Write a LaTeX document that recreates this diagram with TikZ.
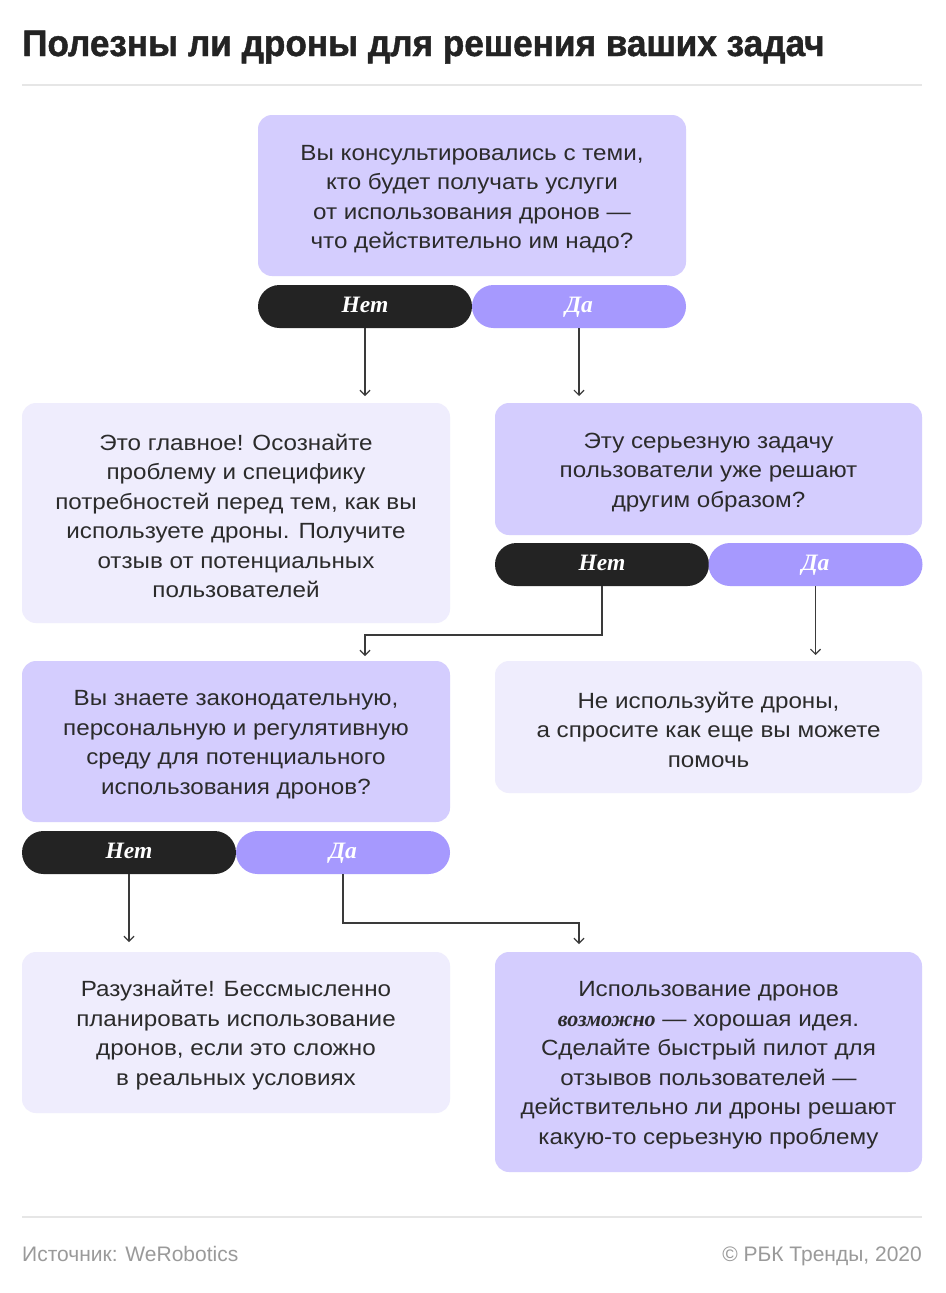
\documentclass[tikz,border=0pt]{standalone}
\usepackage{fontspec}
\setmainfont{Liberation Sans}
\newfontfamily\bodyfont{Liberation Sans}[FakeStretch=1.1]
\newfontfamily\serifit{Liberation Serif}
\newfontfamily\titlefont{Liberation Sans}[FakeStretch=0.95,FakeBold=1.2]
\usetikzlibrary{arrows.meta}
\definecolor{boxdark}{HTML}{D4CDFE}
\definecolor{boxlight}{HTML}{EFEDFD}
\definecolor{pillno}{HTML}{232323}
\definecolor{pillyes}{HTML}{A699FE}
\definecolor{txt}{HTML}{2B2B2B}
\definecolor{rule}{HTML}{E6E6E6}
\definecolor{foot}{HTML}{9A9A9A}
\definecolor{arrc}{HTML}{3A3A3A}
\newcommand{\fstrut}{\rule{0pt}{22pt}}
\begin{document}
\begin{tikzpicture}[x=1pt,y=-1pt,
  box/.style={rounded corners=14pt, inner sep=0pt, align=center, text=txt,
    font=\bodyfont\fontsize{22}{29.5}\selectfont},
  qbox/.style={box, fill=boxdark},
  abox/.style={box, fill=boxlight},
  pill/.style={rounded corners=21.5pt, inner sep=0pt, minimum width=214pt, minimum height=43pt,
    text height=16pt, text depth=5pt,
    text=white, font=\serifit\bfseries\itshape\fontsize{23.5}{26}\selectfont},
  pno/.style={pill, fill=pillno},
  pyes/.style={pill, fill=pillyes},
  arr/.style={draw=arrc, line width=1.2pt, -{Straight Barb[length=5pt,width=10pt]}},
  hrule/.style={draw=rule, line width=2pt}
]
\fill[white] (0,0) rectangle (945,1293);
\useasboundingbox (0,0) rectangle (945,1293);

% title
\node[anchor=base west, inner sep=0pt, text=pillno, font=\titlefont\bfseries\fontsize{37}{42}\selectfont] (title) at (22,56) {Полезны ли дроны для решения ваших задач};
\coordinate (r1a) at (22,85); \coordinate (r1b) at (922,85);
\draw[hrule] (r1a) -- (r1b);

% boxes
\node[qbox, minimum width=428pt, minimum height=161pt] (b1) at (472,195.5)
  {\fstrut Вы консультировались с теми,\\кто будет получать услуги\\от использования дронов —\\что действительно им надо?};
\node[pno] (n1) at (365,306.5) {Нет};
\node[pyes] (y1) at (579,306.5) {Да};

\node[abox, minimum width=428pt, minimum height=220pt] (b2) at (236,513)
  {\fstrut Это главное! Осознайте\\проблему и специфику\\потребностей перед тем, как вы\\используете дроны. Получите\\отзыв от потенциальных\\пользователей};
\node[qbox, minimum width=427pt, minimum height=132pt] (b3) at (708.5,469)
  {\fstrut Эту серьезную задачу\\пользователи уже решают\\другим образом?};
\node[pno] (n2) at (602,564.5) {Нет};
\node[pyes] (y2) at (815.5,564.5) {Да};

\node[qbox, minimum width=428pt, minimum height=161pt] (b4) at (236,741.5)
  {\fstrut Вы знаете законодательную,\\персональную и регулятивную\\среду для потенциального\\использования дронов?};
\node[abox, minimum width=427pt, minimum height=132pt] (b5) at (708.5,727)
  {\fstrut Не используйте дроны,\\а спросите как еще вы можете\\помочь};
\node[pno] (n3) at (129,852.5) {Нет};
\node[pyes] (y3) at (343,852.5) {Да};

\node[abox, minimum width=428pt, minimum height=161pt] (b6) at (236,1032.5)
  {\fstrut Разузнайте! Бессмысленно\\планировать использование\\дронов, если это сложно\\в реальных условиях};
\node[qbox, minimum width=427pt, minimum height=220pt] (b7) at (708.5,1062)
  {\fstrut Использование дронов\\{\serifit\bfseries\itshape возможно} — хорошая идея.\\Сделайте быстрый пилот для\\отзывов пользователей —\\действительно ли дроны решают\\какую-то серьезную проблему};

% arrows
\coordinate (t1) at (365,396);
\coordinate (t2) at (579,396);
\draw[arr] (n1) -- (t1);
\draw[arr] (y1) -- (t2);
\coordinate (k2) at (365,635);
\coordinate (t3) at (365,656);
\coordinate (t4) at (815.5,655);
\draw[arr] (n2.south) |- (k2) -- (t3);
\draw[arr] (y2) -- (t4);
\coordinate (t5) at (129,942);
\coordinate (k3) at (579,923);
\coordinate (t6) at (579,944);
\draw[arr] (n3) -- (t5);
\draw[arr] (y3.south) |- (k3) -- (t6);

% footer
\coordinate (r2a) at (22,1217); \coordinate (r2b) at (922,1217);
\draw[hrule] (r2a) -- (r2b);
\node[anchor=base west, inner sep=0pt, text=foot, font=\fontsize{21}{24}\selectfont] (src) at (22,1261) {Источник: WeRobotics};
\node[anchor=base east, inner sep=0pt, text=foot, font=\fontsize{21}{24}\selectfont] (copy) at (922,1261) {© РБК Тренды, 2020};
\end{tikzpicture}
\end{document}
